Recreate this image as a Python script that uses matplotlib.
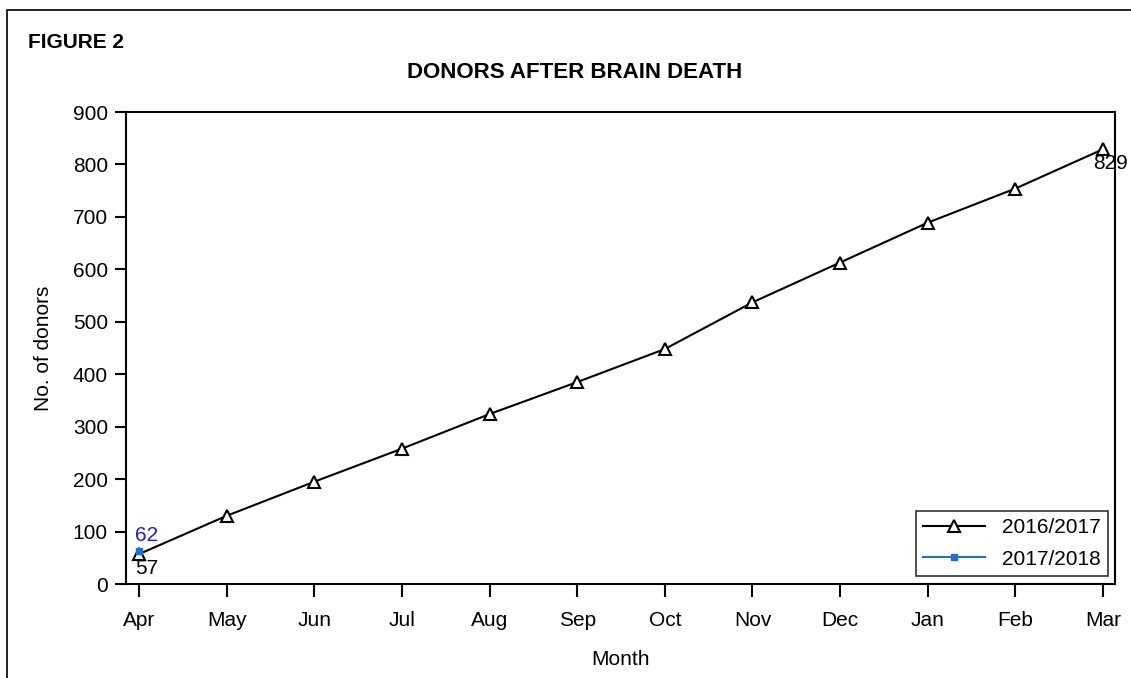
import matplotlib.pyplot as plt
from matplotlib.patches import Rectangle

months = ["Apr", "May", "Jun", "Jul", "Aug", "Sep", "Oct", "Nov", "Dec", "Jan", "Feb", "Mar"]
donors_1617 = [57, 130, 195, 258, 324, 385, 448, 537, 613, 689, 754, 829]
donors_1718 = [62]

plt.rcParams["font.family"] = ["Liberation Sans", "DejaVu Sans"]

W, H = 1131, 678
fig = plt.figure(figsize=(W / 100, H / 100), dpi=100)
ax = fig.add_axes([126 / W, 1 - 584 / H, (1115 - 126) / W, (584 - 112) / H])

# outer frame (only left/top visible in the original)
fig.patches.append(Rectangle((7 / W, -0.1), 1.2, 1 - 10 / H + 0.1, transform=fig.transFigure,
                             fill=False, edgecolor="black", lw=1.2))

x = list(range(len(months)))
ax.plot(x, donors_1617, color="black", lw=1.5, marker="^", markersize=8,
        markerfacecolor="white", markeredgecolor="black", markeredgewidth=1.5,
        label="2016/2017")
ax.plot(x[:len(donors_1718)], donors_1718, color="#1f6fd0", lw=1.5, marker="s",
        markersize=5, markerfacecolor="#1f6fd0", markeredgecolor="#1f6fd0",
        label="2017/2018")

ax.text(x[0] - 0.04, donors_1718[0] + 12, str(donors_1718[0]), color="#1a1aff",
        fontsize=15, ha="left", va="bottom")
ax.text(x[0] - 0.04, donors_1617[0] - 10, str(donors_1617[0]), color="black",
        fontsize=15, ha="left", va="top")
ax.text(x[-1] - 0.11, donors_1617[-1] - 10, str(donors_1617[-1]), color="black",
        fontsize=15, ha="left", va="top", clip_on=False, zorder=1)

ax.set_xlim(-0.148, 11.137)
ax.set_ylim(0, 900)
ax.set_yticks(range(0, 901, 100))
ax.set_xticks(x)
ax.set_xticklabels(months)
ax.tick_params(axis="both", direction="out", width=1.5, labelsize=15, colors="black")
ax.tick_params(axis="x", length=9.5, pad=10)
ax.tick_params(axis="y", length=8, pad=5)
for s in ax.spines.values():
    s.set_linewidth(1.5)

ax.set_xlabel("Month", fontsize=15, labelpad=14)
ax.set_ylabel("No. of donors", fontsize=15, labelpad=14)

leg = ax.legend(loc="lower right", bbox_to_anchor=(1 - 7 / 989, 8 / 472), fontsize=15,
                frameon=True, fancybox=False, edgecolor="black", handlelength=3.0,
                handletextpad=0.8, borderpad=0.35, labelspacing=0.6, borderaxespad=0)
leg.get_frame().set_linewidth(1.2)

fig.text(28 / W, 1 - 42 / H, "FIGURE 2", fontsize=15, fontweight="bold",
         ha="left", va="center")
fig.text(575 / W, 1 - 73 / H, "DONORS AFTER BRAIN DEATH", fontsize=16,
         fontweight="bold", ha="center", va="center")

fig.savefig("out.png", dpi=100)
